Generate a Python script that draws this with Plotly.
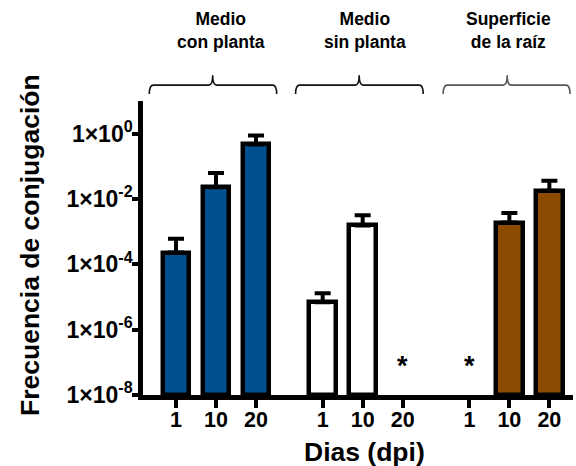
import plotly.graph_objects as go

# ---------------- data ----------------
group_labels = ["Medio<br>con planta", "Medio<br>sin planta", "Superficie<br>de la raíz"]
day_labels = ["1", "10", "20"]

medio_con_planta = [2.3e-4, 2.3e-2, 0.47]
medio_con_planta_upper = [6.1e-4, 6.2e-2, 0.88]

medio_sin_planta = [6.9e-6, 1.55e-3, None]
medio_sin_planta_upper = [1.3e-5, 3.2e-3, None]

superficie_raiz = [None, 1.9e-3, 1.8e-2]
superficie_raiz_upper = [None, 3.7e-3, 3.6e-2]

y_tick_vals = [1e0, 1e-2, 1e-4, 1e-6, 1e-8]
y_tick_text = ["1×10<sup>0</sup>", "1×10<sup>-2</sup>", "1×10<sup>-4</sup>",
               "1×10<sup>-6</sup>", "1×10<sup>-8</sup>"]

series = [
    (medio_con_planta, medio_con_planta_upper, "#00508F"),
    (medio_sin_planta, medio_sin_planta_upper, "#FFFFFF"),
    (superficie_raiz, superficie_raiz_upper, "#8C4B00"),
]

# ---------------- layout helpers ----------------
GROUP_STEP = 3.667
FONT = "Liberation Sans, Arial, sans-serif"
base_val = 1e-8

fig = go.Figure()
tick_pos, tick_txt = [], []
missing = []
for gi, (vals, upper, color) in enumerate(series):
    xs = [gi * GROUP_STEP + di for di in range(len(day_labels))]
    tick_pos += xs
    tick_txt += day_labels
    px, py, pe = [], [], []
    for x, v, u in zip(xs, vals, upper):
        if v is None:
            missing.append(x)
            continue
        px.append(x)
        py.append(v)
        pe.append(u - v)
    fig.add_trace(go.Bar(
        x=px, y=[v - base_val for v in py], base=base_val, width=0.67,
        marker=dict(color=color, line=dict(color="black", width=4.5)),
        error_y=dict(type="data", symmetric=False, array=pe,
                     arrayminus=[0] * len(pe), color="black",
                     thickness=4, width=8),
        showlegend=False,
    ))

# asterisks for non-detected
for x in missing:
    fig.add_annotation(x=x, y=-7, xref="x", yref="y", text="*",
                       showarrow=False, yshift=-4, yanchor="middle",
                       font=dict(family=FONT, size=27, color="black", weight="bold"))

# brackets and group labels
bracket_spans = [(-0.667, 0.917, 2.517), (2.99, 4.58, 6.18), (6.68, 8.28, 9.85)]
bracket_colors = ["#111111", "#111111", "#555555"]
label_x = [1.12, 4.73, 8.3]
yh, yb, yt = 1.054, 1.024, 1.088
d = 0.1
for (xl, xc, xr), col in zip(bracket_spans, bracket_colors):
    path = (f"M {xl},{yb} Q {xl},{yh} {xl+d},{yh} L {xc-d},{yh} "
            f"Q {xc},{yh} {xc},{yt} Q {xc},{yh} {xc+d},{yh} "
            f"L {xr-d},{yh} Q {xr},{yh} {xr},{yb}")
    fig.add_shape(type="path", path=path, xref="x", yref="paper",
                  line=dict(color=col, width=1.6))
for lx, txt in zip(label_x, group_labels):
    fig.add_annotation(x=lx, y=1.239, xref="x", yref="paper", text=txt,
                       showarrow=False, yanchor="middle", xanchor="center",
                       font=dict(family=FONT, size=17.5, color="black", weight="bold"))

# axis titles
fig.add_annotation(x=-0.263, y=0.51, xref="paper", yref="paper",
                   text="Frecuencia de conjugación", textangle=-90,
                   showarrow=False, xanchor="center", yanchor="middle",
                   font=dict(family=FONT, size=26.5, color="black", weight="bold"))
fig.add_annotation(x=0.514, y=-0.193, xref="paper", yref="paper",
                   text="Dias (dpi)", showarrow=False, xanchor="center", yanchor="middle",
                   font=dict(family=FONT, size=26.5, color="black", weight="bold"))

fig.update_layout(
    width=576, height=466,
    margin=dict(l=143, r=3, t=101, b=71),
    paper_bgcolor="white", plot_bgcolor="white",
    bargap=0, barmode="overlay",
    font=dict(family=FONT, color="black"),
)
fig.update_xaxes(
    range=[-0.825, 9.925], tickmode="array", tickvals=tick_pos, ticktext=tick_txt,
    showline=True, linecolor="black", linewidth=4.5, showgrid=False, zeroline=False,
    ticks="outside", ticklen=8, tickwidth=4, tickcolor="black",
    ticklabelstandoff=-7,
    tickfont=dict(family=FONT, size=21.5, color="black", weight="bold"),
)
fig.update_yaxes(
    type="log", range=[-8, 1], tickmode="array", tickvals=y_tick_vals,
    ticktext=y_tick_text,
    showline=True, linecolor="black", linewidth=4.5, showgrid=False, zeroline=False,
    ticks="outside", ticklen=6, tickwidth=3.5, tickcolor="black",
    ticklabelstandoff=-5,
    tickfont=dict(family=FONT, size=23, color="black", weight="bold"),
)

fig.write_html("out.html")
